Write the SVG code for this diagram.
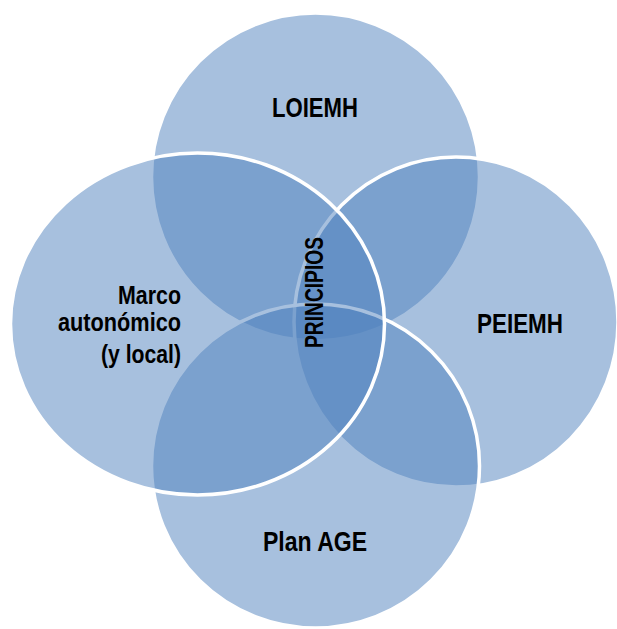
<svg xmlns="http://www.w3.org/2000/svg" width="617" height="629" viewBox="0 0 617 629">
<style>
.c{fill:#4f81bd;fill-opacity:0.5;stroke:#ffffff;stroke-width:3.5}
.t{font-family:"Liberation Sans",Arial,sans-serif;font-weight:bold;fill:#000;font-size:28px}
.m{font-size:26px}
</style>
<rect width="617" height="629" fill="#ffffff"/>
<g id="loiemh"><ellipse class="c" cx="315.5" cy="177" rx="164" ry="164"/></g>
<g id="peiemh"><ellipse class="c" cx="456" cy="322" rx="162" ry="165"/></g>
<g id="planage"><ellipse class="c" cx="315.5" cy="466" rx="164" ry="162"/></g>
<g id="marco"><ellipse class="c" cx="197.5" cy="324" rx="187" ry="171"/></g>
<g id="labels">
<text class="t" x="272" y="117" textLength="86" lengthAdjust="spacingAndGlyphs">LOIEMH</text>
<text class="t" x="477" y="333" textLength="86" lengthAdjust="spacingAndGlyphs">PEIEMH</text>
<text class="t" x="263" y="551" textLength="104" lengthAdjust="spacingAndGlyphs">Plan AGE</text>
<text class="t m" x="118" y="304" textLength="63" lengthAdjust="spacingAndGlyphs">Marco</text>
<text class="t m" x="58" y="331" textLength="123" lengthAdjust="spacingAndGlyphs">autonómico</text>
<text class="t m" x="101" y="363" textLength="80" lengthAdjust="spacingAndGlyphs">(y local)</text>
<text class="t" transform="translate(323,348) rotate(-90)" textLength="111" lengthAdjust="spacingAndGlyphs" style="font-size:25px">PRINCIPIOS</text>
</g>
</svg>
